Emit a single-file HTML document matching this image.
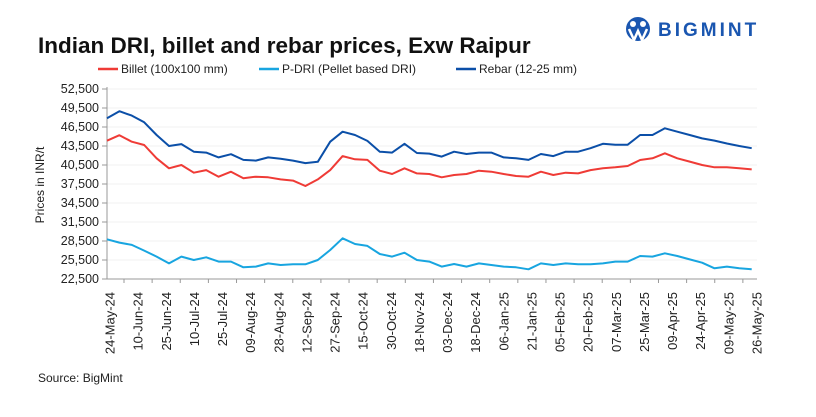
<!DOCTYPE html>
<html><head><meta charset="utf-8">
<style>
body{margin:0;background:#fff;font-family:"Liberation Sans",Arial,sans-serif;}
#wrap{position:relative;width:816px;height:417px;overflow:hidden;}
</style></head>
<body>
<div id="wrap">
<svg id="chart" width="816" height="417" xmlns="http://www.w3.org/2000/svg">
  <text x="38" y="53" font-size="22.5" font-weight="bold" fill="#111">Indian DRI, billet and rebar prices, Exw  Raipur</text>
  <g>
    <circle cx="638" cy="29" r="12" fill="#1a56b0"/>
    <circle cx="633" cy="24" r="3" fill="#fff"/><circle cx="643" cy="24" r="3" fill="#fff"/>
    <path d="M629 29 L634 40 L638 31 L642 40 L647 29" stroke="#fff" stroke-width="2.5" fill="none"/>
    <text x="658" y="36" font-size="19" font-weight="bold" fill="#1a56b0" letter-spacing="3">BIGMINT</text>
  </g>
  <g>
    <line x1="98" y1="69" x2="118" y2="69" stroke="#ef3b36" stroke-width="2.5"/>
    <text x="121" y="73" font-size="12" fill="#222">Billet (100x100 mm)</text>
    <line x1="259" y1="69" x2="279" y2="69" stroke="#18a5e0" stroke-width="2.5"/>
    <text x="282" y="73" font-size="12" fill="#222">P-DRI (Pellet based DRI)</text>
    <line x1="456" y1="69" x2="476" y2="69" stroke="#0b4fa8" stroke-width="2.5"/>
    <text x="479" y="73" font-size="12" fill="#222">Rebar (12-25 mm)</text>
  </g>
  <text transform="translate(44,185) rotate(-90)" text-anchor="middle" font-size="12" fill="#222">Prices in INR/t</text>
  <g id="grid"></g><g id="yt"></g><g id="xt"></g><g id="series"></g>
  <text x="38" y="382" font-size="12" fill="#222">Source: BigMint</text>
</svg>
</div>
<script>
const yTicks=[22500,25500,28500,31500,34500,37500,40500,43500,46500,49500,52500];
const xLabels=["24-May-24","10-Jun-24","25-Jun-24","10-Jul-24","25-Jul-24","09-Aug-24","28-Aug-24","12-Sep-24","27-Sep-24","15-Oct-24","30-Oct-24","18-Nov-24","03-Dec-24","18-Dec-24","06-Jan-25","21-Jan-25","05-Feb-25","20-Feb-25","07-Mar-25","25-Mar-25","09-Apr-25","24-Apr-25","09-May-25","26-May-25"];
const rebar=[47870,49000,48300,47240,45240,43500,43800,42600,42450,41700,42200,41300,41200,41700,41500,41200,40800,41000,44180,45760,45230,44300,42600,42450,43850,42400,42300,41820,42600,42240,42450,42450,41700,41550,41300,42240,41900,42600,42600,43150,43850,43700,43700,45240,45240,46290,45760,45240,44700,44350,43900,43500,43150];
const billet=[44340,45200,44180,43660,41550,39980,40500,39290,39700,38660,39450,38400,38660,38550,38230,38030,37180,38230,39700,41900,41400,41300,39600,39080,39980,39180,39080,38550,38920,39080,39600,39450,39080,38770,38660,39450,38920,39290,39180,39700,39980,40130,40340,41290,41550,42350,41550,41030,40500,40130,40130,39980,39800];
const pdri=[28770,28240,27880,26980,26030,24970,26030,25500,25920,25240,25240,24350,24450,24970,24710,24820,24820,25500,27080,28930,28030,27720,26450,26030,26660,25500,25240,24450,24870,24450,24970,24710,24450,24350,24030,24970,24710,24970,24820,24820,24970,25240,25240,26130,26030,26560,26130,25600,25080,24190,24450,24190,24030];
const NS="http://www.w3.org/2000/svg";
const X0=107,X1=757,Y0=279,Y1=89,DAYS=367;
const xDay=d=>X0+d/DAYS*(X1-X0);
const xLab=i=>X0+3+i*(X1-X0-3)/(xLabels.length-1);
const yV=v=>Y0-(v-22500)/(52500-22500)*(Y0-Y1);
function mk(t,a,p){const e=document.createElementNS(NS,t);for(const k in a)e.setAttribute(k,a[k]);p.appendChild(e);return e;}
const grid=document.getElementById('grid'),yt=document.getElementById('yt'),xt=document.getElementById('xt'),ser=document.getElementById('series');
yTicks.forEach(v=>{
  const l=mk('line',{x1:X0,x2:X1,y1:yV(v),y2:yV(v),stroke:'#f0f0f0','stroke-width':1},grid);
  
  
  const tk=mk('line',{x1:X0-5,x2:X0,y1:yV(v),y2:yV(v),stroke:'#999'},yt);
  
  
  const t=mk('text',{x:X0-8,y:yV(v)+4,'text-anchor':'end','font-size':12.5,fill:'#222'},yt);
  t.textContent=v.toLocaleString('en-US');
  
  
});
const ax=mk('line',{x1:X0,x2:X0,y1:Y1-2,y2:Y0,stroke:'#999'},yt);


const bx=mk('line',{x1:X0,x2:X1,y1:Y0,y2:Y0,stroke:'#999'},xt);


xLabels.forEach((s,i)=>{
  const x=xLab(i);
  if(i<xLabels.length-1){
    const tk=mk('line',{x1:x+14,x2:x+14,y1:Y0,y2:Y0+4,stroke:'#999'},xt);
    
    
  }
  const t=mk('text',{transform:`translate(${x+4.5},${Y0+13}) rotate(-90)`,'text-anchor':'end','font-size':13,fill:'#222'},xt);
  t.textContent=s;
  
  
});
function line(arr,color,name){
  const pts=arr.map((v,i)=>xDay(Math.min(i*7,DAYS)).toFixed(1)+','+yV(v).toFixed(1)).join(' ');
  const p=mk('polyline',{points:pts,fill:'none',stroke:color,'stroke-width':2,'stroke-linejoin':'round'},ser);
  
  
}
line(rebar,'#0b4fa8','rebar-line');
line(billet,'#ef3b36','billet-line');
line(pdri,'#18a5e0','pdri-line');
</script>
</body></html>
